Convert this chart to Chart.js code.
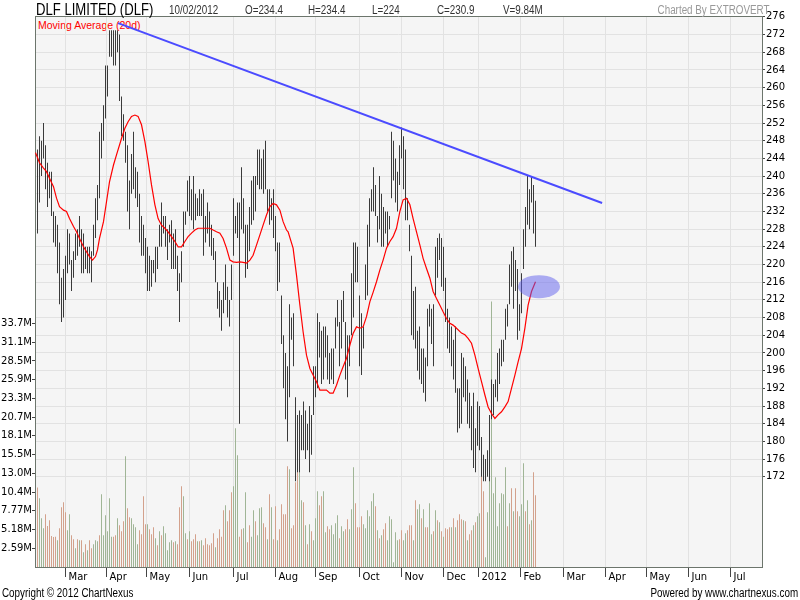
<!DOCTYPE html>
<html>
<head>
<meta charset="utf-8">
<script src="https://cdn.jsdelivr.net/npm/chart.js@4.4.1/dist/chart.umd.min.js"></script>
<style>
  html, body { margin: 0; padding: 0; background: #fff; }
  #wrap { position: relative; width: 800px; height: 600px; overflow: hidden; }
  #c { position: absolute; left: 0; top: 0; }
  #plotbg { position: absolute; background: #f5f5f5; }
  .n {
    position: absolute; white-space: nowrap; line-height: 1;
    font-family: "Liberation Sans", Arial, sans-serif;
    transform: scaleX(0.82); transform-origin: 0 0;
  }
  .n.r { transform-origin: 100% 0; }
  #maLabel {
    position: absolute; left: 38px; top: 20px; line-height: 1;
    font-family: "Liberation Sans", Arial, sans-serif; font-size: 10.5px; color: #ff0000;
  }
</style>
</head>
<body>
<div id="wrap">
  <div id="plotbg"></div>
  <div id="maLabel">Moving Average (20d)</div>
  <canvas id="c" width="800" height="600"></canvas>

  <div class="n" style="left:36px;top:2px;font-size:16px;color:#000">DLF LIMITED (DLF)</div>
  <div class="n" style="left:169px;top:4px;font-size:12px;color:#333">10/02/2012</div>
  <div class="n" style="left:245px;top:4px;font-size:12px;color:#333">O=234.4</div>
  <div class="n" style="left:308px;top:4px;font-size:12px;color:#333">H=234.4</div>
  <div class="n" style="left:372px;top:4px;font-size:12px;color:#333">L=224</div>
  <div class="n" style="left:437px;top:4px;font-size:12px;color:#333">C=230.9</div>
  <div class="n" style="left:503px;top:4px;font-size:12px;color:#333">V=9.84M</div>
  <div class="n r" style="right:31px;top:4px;font-size:12px;color:#999">Charted By EXTROVERT</div>

  <div class="n" style="left:2px;top:587px;font-size:12px;color:#000">Copyright © 2012 ChartNexus</div>
  <div class="n r" style="right:2px;top:587px;font-size:12px;color:#000">Powered by www.chartnexus.com</div>
</div>

<script>
// x axis: one unit per trading day, bar 0 = first session shown (Feb 2011)
const monthLabels = ['Mar', 'Apr', 'May', 'Jun', 'Jul', 'Aug', 'Sep', 'Oct', 'Nov', 'Dec', '2012', 'Feb', 'Mar', 'Apr', 'May', 'Jun', 'Jul'];
const monthPos = [14, 34.5, 54.5, 76, 98, 119, 139, 161, 182, 203, 220.5, 241.5, 263, 284, 304.5, 325.5, 346.5];

const priceTicks = [172, 176, 180, 184, 188, 192, 196, 200, 204, 208, 212, 216, 220, 224, 228, 232, 236, 240, 244, 248, 252, 256, 260, 264, 268, 272, 276];
const volTickVals = [2.59, 5.18, 7.77, 10.36, 12.95, 15.54, 18.13, 20.72, 23.31, 25.9, 28.49, 31.08, 33.67];
const volTickLabels = ['2.59M', '5.18M', '7.77M', '10.4M', '13.0M', '15.5M', '18.1M', '20.7M', '23.3M', '25.9M', '28.5M', '31.1M', '33.7M'];

// daily high / low
const priceHigh = [
  246, 249, 248, 252, 247, 243, 241, 241, 232, 231, 229, 225, 217, 219, 222, 228, 227, 221, 223, 227,
  228, 231, 228, 227, 224, 224, 224, 223, 229, 235, 238, 250, 252, 256, 265, 265, 273, 273, 273, 273,
  273, 272, 258, 254, 250, 247, 239, 245, 250, 242, 241, 236, 231, 229, 226, 224, 222, 221, 221, 224,
  224, 229, 234, 231, 231, 228, 229, 230, 227, 228, 222, 218, 223, 232, 232, 239, 240, 237, 240, 236,
  235, 237, 236, 237, 231, 234, 232, 229, 226, 223, 216, 214, 212, 216, 220, 215, 212, 220, 235, 231,
  234, 234, 242, 235, 229, 229, 233, 239, 240, 240, 246, 246, 244, 246, 248, 237, 237, 235, 237, 231,
  225, 225, 213, 204, 200, 197, 211, 208, 209, 190, 186, 187, 186, 189, 187, 184, 188, 186, 197, 197,
  209, 207, 205, 206, 206, 204, 200, 201, 201, 208, 212, 207, 212, 214, 207, 204, 204, 218, 225, 225,
  224, 213, 209, 206, 220, 229, 235, 237, 242, 238, 231, 240, 236, 233, 232, 232, 231, 250, 248, 244,
  241, 247, 251, 249, 246, 235, 229, 222, 214, 215, 205, 206, 201, 201, 199, 210, 211, 210, 211, 224,
  226, 227, 226, 224, 217, 210, 208, 206, 203, 206, 192, 192, 200, 199, 197, 194, 191, 188, 191, 183,
  189, 188, 181, 177, 176, 178, 186, 194, 193, 194, 200, 201, 203, 203, 210, 211, 220, 223, 224, 221,
  219, 211, 218, 228, 233, 240, 237, 240, 238, 234.4
];
const priceLow = [
  227, 234, 240, 244, 237, 233, 235, 231, 225, 224, 218, 211, 207, 208, 212, 218, 220, 214, 217, 221,
  222, 224, 218, 218, 219, 218, 218, 216, 222, 226, 230, 235, 244, 248, 253, 258, 267, 267, 265, 265,
  268, 257, 249, 248, 243, 232, 228, 236, 237, 235, 233, 225, 222, 222, 218, 214, 214, 215, 218, 216,
  219, 224, 224, 227, 224, 221, 225, 219, 219, 219, 214, 207, 216, 224, 229, 232, 231, 230, 228, 230,
  231, 231, 231, 222, 225, 227, 224, 222, 221, 216, 210, 208, 205, 209, 212, 208, 206, 212, 222, 227,
  226, 184, 228, 227, 217, 219, 223, 229, 230, 232, 238, 237, 237, 236, 237, 232, 229, 230, 226, 223,
  214, 216, 202, 192, 185, 180, 190, 203, 197, 171, 173, 173, 178, 178, 176, 178, 173, 177, 186, 190,
  192, 199, 193, 194, 199, 194, 193, 194, 193, 201, 206, 197, 201, 207, 194, 190, 197, 204, 208, 216,
  216, 197, 195, 201, 212, 213, 224, 232, 232, 231, 225, 228, 224, 224, 227, 224, 228, 235, 239, 234,
  232, 238, 244, 237, 230, 230, 223, 204, 203, 201, 196, 194, 193, 191, 189, 197, 206, 202, 197, 213,
  217, 221, 215, 214, 207, 201, 200, 197, 194, 191, 182, 183, 184, 190, 189, 184, 183, 178, 174, 173,
  179, 178, 172, 171, 171, 172, 171, 185, 186, 190, 189, 193, 197, 198, 203, 206, 211, 215, 210, 214,
  203, 205, 209, 219, 224, 229, 228, 234, 227, 224
];

// volume in millions, and whether the bar is drawn green (1) or red (0)
const volume = [
  10.98, 9.5, 6.74, 5.35, 7.29, 5.67, 6.46, 4.29, 4.15, 4.2, 3.69, 5.35, 8.26, 8.95, 7.57, 5.08, 7.29, 4.38, 3.83, 2.59,
  3.83, 3.69, 3.69, 2.03, 3.14, 2.31, 3.69, 2.59, 3.14, 3.69, 3.55, 4.38, 10.06, 4.38, 7.15, 4.94, 9.5, 4.2, 4.2, 4.38,
  6.74, 5.77, 4.94, 6.32, 15.31, 8.12, 6.87, 6.74, 5.91, 5.49, 3.14, 5.08, 4.52, 9.78, 5.91, 5.91, 5.21, 4.52, 5.49, 3.97,
  3.0, 4.94, 4.38, 5.63, 4.66, 2.31, 3.42, 3.69, 3.42, 3.55, 3.14, 8.26, 11.16, 9.78, 4.66, 3.83, 4.94, 3.55, 3.83, 4.52,
  3.55, 3.55, 3.69, 3.0, 3.97, 3.14, 3.0, 3.28, 4.66, 2.72, 3.97, 5.21, 4.2, 7.84, 8.53, 6.32, 7.84, 10.33, 11.16, 19.18,
  15.45, 4.2, 5.21, 5.35, 10.33, 3.42, 5.77, 4.2, 7.84, 6.32, 4.38, 8.12, 8.26, 6.04, 5.49, 3.83, 10.06, 8.26, 3.83, 8.4,
  3.69, 5.21, 8.67, 7.29, 7.29, 13.93, 13.51,
  5.35, 5.77, 11.72, 14.62, 13.37, 9.23, 8.95, 5.77, 3.14, 5.91, 4.94, 3.69, 6.74, 10.47, 8.53, 9.78, 10.47, 4.8, 5.63, 5.21,
  5.77, 4.52, 6.04, 7.15, 3.97, 5.63, 4.94, 5.21, 6.6, 5.21, 7.98, 13.79, 8.81, 5.49, 5.49, 7.01, 5.91, 5.35, 7.84, 7.01,
  9.09, 10.19, 8.4, 5.08, 3.97, 4.38, 5.21, 6.04, 3.69, 7.01, 6.6, 0.65, 4.8, 3.69, 3.83, 5.08, 3.69, 4.66, 5.08, 5.77,
  5.77, 3.69, 9.23, 7.98, 8.67, 6.74, 7.98, 5.49, 5.49, 8.81, 4.52, 4.94, 7.84, 6.46, 6.18, 4.94, 4.2, 5.35, 5.21, 5.49,
  5.49, 6.74, 5.49, 6.46, 7.29, 6.6, 6.46, 6.32, 3.69, 4.52, 5.08, 5.77, 6.18, 7.01, 7.43, 13.37, 10.47, 1.34, 7.57, 15.73,
  36.7, 10.19, 12.4, 5.63, 8.81, 10.19, 10.06, 13.79, 5.63, 8.81, 10.89, 7.71, 10.89, 7.71, 7.01, 8.67, 14.34, 7.71, 9.23, 5.91,
  6.46, 13.1, 9.92
];
const volUp = [
  0, 1, 1, 1, 0, 0, 0, 0, 0, 0, 1, 0, 0, 0, 0, 1, 1, 0, 0, 1, 0, 1, 0, 1, 0, 1, 0, 0, 1, 1,
  1, 0, 1, 1, 1, 1, 1, 1, 0, 0, 1, 0, 0, 0, 1, 0, 0, 1, 1, 1, 1, 0, 0, 0, 0, 1, 0, 0, 0, 1,
  0, 1, 0, 1, 1, 1, 1, 1, 0, 1, 0, 0, 0, 1, 1, 0, 1, 0, 0, 0, 1, 0, 1, 0, 0, 0, 0, 0, 0, 1,
  0, 0, 0, 0, 1, 0, 0, 0, 1, 1, 1, 0, 0, 1, 1, 0, 0, 1, 1, 0, 1, 1, 1, 0, 0, 1, 0, 1, 0, 0,
  1, 0, 0, 0, 0, 0, 1,
  0, 0, 0, 0, 1, 1, 0, 1, 0, 1, 0, 1, 1, 1, 0, 0, 1, 1, 0, 0, 1, 1, 1, 1, 0, 1, 1, 0, 0, 1,
  1, 1, 0, 0, 0, 0, 1, 1, 1, 1, 1, 1, 0, 1, 0, 1, 0, 0, 1, 1, 1, 1, 1, 1, 0, 0, 1, 1, 0, 0,
  0, 1, 0, 1, 1, 0, 1, 0, 0, 1, 1, 0, 1, 0, 1, 0, 1, 0, 0, 0, 1, 0, 1, 0, 0, 0, 1, 0, 1, 0,
  0, 1, 0, 1, 1, 0, 0, 1, 1, 1, 1, 1, 1, 1, 1, 1, 1, 1, 0, 1, 0, 1, 0, 0, 1, 1, 1, 0, 1, 0,
  1, 0, 0
];

// 20 day moving average as drawn (bar position, price)
const maX = [
  -1, 1, 3, 4.5, 6, 8, 9.5, 11, 13, 14.5, 16, 18, 19.5, 21, 23, 24.5, 26, 27.5, 29, 30,
  31, 33, 34.5, 36, 38, 39.5, 42, 43.7, 45.3, 47, 48.7, 50.3, 52, 53.7, 55.3, 57, 58.7, 60.3, 62, 63.7,
  65.3, 67, 68.7, 70.3, 72, 73.7, 75.3, 77, 78.7, 80.3, 82, 84.5, 86.2, 87.8, 89.5, 91.2, 92.8, 94.5, 96.2, 97.8,
  99.5, 101.2, 102.8, 104.5, 106.2, 107.8, 109.5, 111.2, 112.8, 114.5, 116.2, 117.8, 119.5, 121.2, 122.8, 124.5, 125.3, 127.8, 129.5, 131.2,
  132.8, 134.5, 136.2, 137.8, 139.5, 141.2, 142.8, 144.5, 146.2, 147.8, 149.5, 151.2, 152.8, 154.5, 156.2, 157.8, 159.5, 161.2, 162.8, 164.5,
  166.2, 167.8, 169.5, 171.2, 172.8, 174.5, 176.2, 177.8, 179.5, 181.2, 182.8, 184.5, 186.2, 187.8, 189.5, 191.2, 192.8, 194.5, 196.2, 197.8,
  199.5, 201.2, 202.8, 204.5, 206.2, 207.8, 209.5, 212, 213.7, 215.3, 217, 218.7, 220.3, 222, 223.7, 225.3, 227, 228.7, 230.3, 232,
  233.7, 235.3, 237, 238.7, 240.3, 242, 243.7, 245.3, 247, 249
];
const maY = [
  245.3, 243, 241.8, 241, 239.5, 237.6, 235, 233.1, 232.3, 232, 230.4, 228.6, 227.4, 225.9, 224, 222.9, 221.8, 221, 221.8, 223.3,
  225.9, 229.7, 234.2, 238.7, 242.5, 244.8, 248.5, 250.8, 252.3, 253.5, 253.8, 253.5, 251.6, 247.8, 243.3, 238, 233.5, 230.4, 228.9, 228.2,
  227.4, 226.3, 225.2, 224, 224, 225.2, 226.3, 227.1, 227.8, 228.2, 228.2, 228.2, 228.2, 227.8, 227.4, 227.1, 225.9, 223.7, 221, 220.6,
  220.5, 220.6, 220.5, 220.3, 221, 222.1, 224.4, 226.7, 228.9, 231.2, 233.1, 233.8, 233.5, 232.3, 229.7, 227.8, 227.4, 223.7, 217.6, 210.8,
  204.8, 199.5, 196.5, 195, 193.5, 191.6, 191.6, 191.6, 190.9, 190.9, 192.7, 195, 196.9, 198.8, 201.8, 204.4, 205.9, 205.6, 205.9, 208.2,
  211.6, 213.7, 216.1, 218.8, 221, 223.7, 225.2, 226.3, 228.2, 232, 234.6, 235, 233.5, 230.4, 227.4, 224.4, 221.4, 219.1, 216.9, 213.9,
  212.3, 210.8, 209.3, 207.8, 206.7, 206.3, 205.6, 204.5, 204.1, 203.3, 202.2, 199.5, 196.5, 193.5, 190.5, 187.8, 186.3, 185.2, 186, 186.7,
  187.8, 189, 192, 195, 198, 201, 205.6, 210.8, 213.9, 216.1
];

// hand-drawn resistance line and highlight marker
const trendX = [40.3, 282.3];
const trendY = [274.6, 233.9];
const markX = 250.75;
const markY = 215.0;

const AXIS_COLOR = '#6c756c';
const GRID_COLOR = '#e2e2e2';
const TICK_FONT = { family: 'DejaVu Sans', size: 10 };

const chromePlugin = {
  id: 'chrome',
  afterDatasetsDraw(chart) {
    const { ctx, scales } = chart;
    const cx = scales.x.getPixelForValue(markX);
    const cy = scales.y.getPixelForValue(markY);
    ctx.save();
    ctx.fillStyle = 'rgba(95, 95, 237, 0.5)';
    ctx.beginPath();
    ctx.ellipse(cx, cy, 21, 11.5, 0, 0, Math.PI * 2);
    ctx.fill();
    ctx.restore();
  },
  afterDraw(chart) {
    // top edge of the plot frame (the axes draw the other three)
    const { ctx, chartArea: a } = chart;
    ctx.save();
    ctx.strokeStyle = AXIS_COLOR;
    ctx.lineWidth = 1;
    ctx.beginPath();
    ctx.moveTo(a.left, a.top + 0.5);
    ctx.lineTo(a.right, a.top + 0.5);
    ctx.stroke();
    ctx.restore();
  }
};

const chart = new Chart(document.getElementById('c'), {
  type: 'bar',
  data: {
    datasets: [
      {
        type: 'line',
        label: 'Trend',
        data: trendX.map((x, k) => ({ x, y: trendY[k] })),
        yAxisID: 'y',
        borderColor: '#4b4bff',
        borderWidth: 2,
        pointRadius: 0,
        order: 0
      },
      {
        type: 'line',
        label: 'Moving Average (20d)',
        data: maX.map((x, k) => ({ x, y: maY[k] })),
        yAxisID: 'y',
        borderColor: '#ff0000',
        borderWidth: 1.2,
        pointRadius: 0,
        order: 1
      },
      {
        type: 'bar',
        label: 'DLF',
        data: priceHigh.map((h, i) => ({ x: i, y: [priceLow[i], h] })),
        yAxisID: 'y',
        backgroundColor: '#3a3a3a',
        barThickness: 1,
        inflateAmount: 0,
        grouped: false,
        order: 2
      },
      {
        type: 'bar',
        label: 'Volume',
        data: volume.map((v, i) => ({ x: i, y: v * 1e6 })),
        yAxisID: 'yVol',
        backgroundColor: volUp.map(u => (u ? '#a0b596' : '#d3a18c')),
        barThickness: 1,
        inflateAmount: 0,
        grouped: false,
        order: 3
      }
    ]
  },
  options: {
    responsive: false,
    animation: false,
    events: [],
    layout: { padding: { top: 16, bottom: 13, left: 0, right: 0 } },
    plugins: {
      legend: { display: false },
      tooltip: { enabled: false }
    },
    scales: {
      x: {
        type: 'linear',
        min: -1.25,
        max: 362.25,
        bounds: 'data',
        offset: false,
        afterBuildTicks: s => { s.ticks = monthPos.map(v => ({ value: v })); },
        afterFit: s => { s.height = 20; },
        ticks: {
          autoSkip: false,
          maxRotation: 0,
          align: 'start',
          labelOffset: 3,
          padding: -6,
          color: '#000',
          font: TICK_FONT,
          callback: (v, i) => monthLabels[i]
        },
        grid: { color: GRID_COLOR, offset: false, tickColor: '#444', tickLength: 10 },
        border: { color: AXIS_COLOR }
      },
      y: {
        type: 'linear',
        position: 'right',
        min: 151.6,
        max: 276.2,
        bounds: 'data',
        afterBuildTicks: s => { s.ticks = priceTicks.map(v => ({ value: v })); },
        afterFit: s => { s.width = 38; },
        ticks: { color: '#000', font: TICK_FONT, padding: 1, callback: v => v },
        grid: { color: GRID_COLOR, tickColor: '#444', tickLength: 3 },
        border: { color: AXIS_COLOR }
      },
      yVol: {
        type: 'linear',
        position: 'left',
        min: 0,
        max: 76.2e6,
        bounds: 'data',
        afterBuildTicks: s => { s.ticks = volTickVals.map(v => ({ value: v * 1e6 })); },
        afterFit: s => { s.width = 35; },
        ticks: { color: '#000', font: TICK_FONT, padding: 0, callback: (v, i) => volTickLabels[i] },
        grid: { drawOnChartArea: false, tickColor: '#444', tickLength: 3 },
        border: { color: AXIS_COLOR }
      }
    }
  },
  plugins: [chromePlugin]
});

// plot background sits behind the canvas so the legend text can go under the trend line
const area = chart.chartArea;
const bg = document.getElementById('plotbg');
bg.style.left = area.left + 'px';
bg.style.top = area.top + 'px';
bg.style.width = (area.right - area.left) + 'px';
bg.style.height = (area.bottom - area.top) + 'px';
</script>
</body>
</html>
